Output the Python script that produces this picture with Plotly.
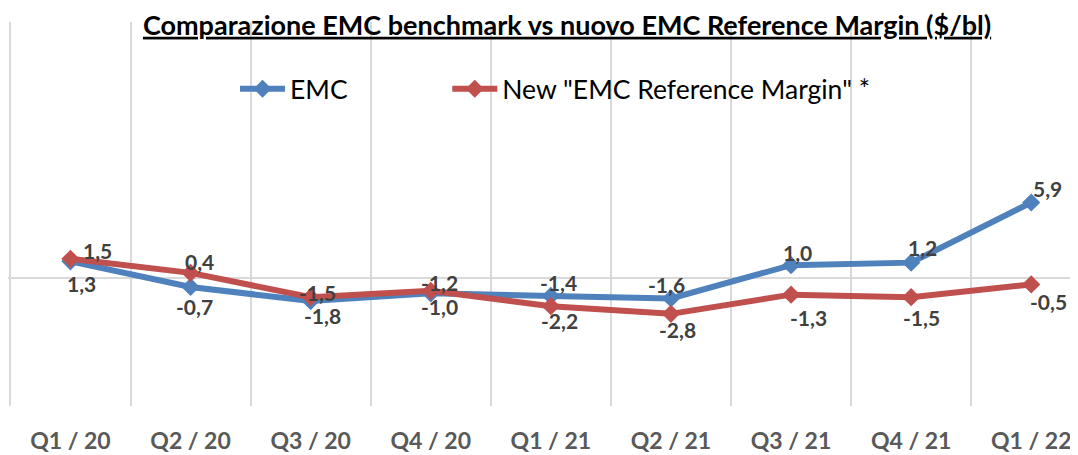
import plotly.graph_objects as go

categories = ["Q1 / 20", "Q2 / 20", "Q3 / 20", "Q4 / 20", "Q1 / 21",
              "Q2 / 21", "Q3 / 21", "Q4 / 21", "Q1 / 22"]
emc = [1.3, -0.7, -1.8, -1.2, -1.4, -1.6, 1.0, 1.2, 5.9]
new_ref = [1.5, 0.4, -1.5, -1.0, -2.2, -2.8, -1.3, -1.5, -0.5]
series_names = ["EMC", 'New "EMC Reference Margin" *']

# label offsets in pixels (style, not data)
emc_off = [(11, -22), (4, -20), (12, -14), (9, 11), (8, 13), (-4, 14), (6, 13), (11, 15), (16, 14)]
new_off = [(27, 8), (9, 11), (7, 5), (9, -16), (9, -14), (7, -16), (17, -23), (10, -20), (17, -17)]

BLUE = "#4F81BD"
RED = "#C0504D"
xs = list(range(len(categories)))

fig = go.Figure()
fig.add_trace(go.Scatter(x=xs, y=emc, name=series_names[0], mode="lines+markers",
                         line=dict(color=BLUE, width=6), legend="legend",
                         marker=dict(symbol="diamond", size=14, color=BLUE)))
fig.add_trace(go.Scatter(x=xs, y=new_ref, name=series_names[1], mode="lines+markers",
                         line=dict(color=RED, width=6), legend="legend2",
                         marker=dict(symbol="diamond", size=14, color=RED)))

label_font = dict(family="Lato", size=21, color="#404040", weight="bold")
for vals, offs in ((emc, emc_off), (new_ref, new_off)):
    for i, v in enumerate(vals):
        fig.add_annotation(x=xs[i], y=v, text=f"{v:.1f}".replace(".", ","),
                           showarrow=False, xshift=offs[i][0], yshift=offs[i][1],
                           font=label_font)

leg_font = dict(family="Lato", size=26.5, color="black")
fig.update_layout(
    width=1078, height=455,
    margin=dict(l=0, r=0, t=14, b=57, autoexpand=False),
    paper_bgcolor="white", plot_bgcolor="white",
    title=dict(text="Comparazione EMC benchmark vs nuovo EMC Reference Margin ($/bl)",
               xref="container", x=0.5186, xanchor="center",
               yref="container", y=0.962, yanchor="middle", automargin=False,
               font=dict(family="Lato", size=27, color="black", weight="bold",
                         lineposition="under")),
    legend=dict(orientation="h", x=0.2106, xanchor="left", y=0.8255, yanchor="middle",
                font=leg_font, bgcolor="rgba(0,0,0,0)", itemwidth=45),
    legend2=dict(orientation="h", x=0.4075, xanchor="left", y=0.8255, yanchor="middle",
                 font=leg_font, bgcolor="rgba(0,0,0,0)", itemwidth=45),
    showlegend=True,
)
fig.update_xaxes(range=[-0.52, 8.456], tickmode="array", tickvals=xs, ticktext=categories,
                 showgrid=False, zeroline=False, showline=False, automargin=False,
                 tickfont=dict(family="Lato", size=23, color="#595959", weight="bold"),
                 ticklabelstandoff=19, ticks="",
                 minor=dict(tickmode="linear", tick0=-0.5, dtick=1, showgrid=True,
                            gridcolor="#D9D9D9", gridwidth=1.5))
fig.update_yaxes(range=[-10, 20], showgrid=False, showticklabels=False, automargin=False,
                 zeroline=True, zerolinecolor="#D9D9D9", zerolinewidth=1.5)

fig.write_html("out.html")
